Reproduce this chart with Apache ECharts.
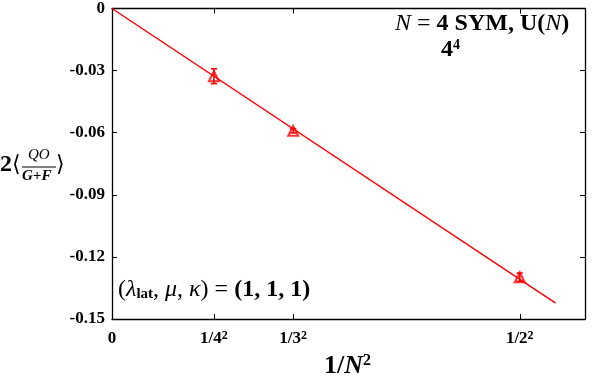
<!DOCTYPE html>
<html>
<head>
<meta charset="utf-8">
<script src="https://cdn.jsdelivr.net/npm/echarts@6/dist/echarts.min.js"></script>
<style>
  html, body { margin: 0; padding: 0; background: #fff; }
  #main { width: 593px; height: 381px; }
</style>
</head>
<body>
<div id="main"></div>
<script>
// 1/N^2 values for N = 4, 3, 2
var xVals = [1 / 16, 1 / 9, 1 / 4];
var yVals = [-0.0327, -0.0591, -0.1298];
var yErr = [0.0036, 0.0010, 0.0020];
// fit line through origin
var fitX = [0, 0.272];
var fitY = [0, -0.1423];
var xTicks = [0, 1 / 16, 1 / 9, 1 / 4];
var xTickLabels = ['0', '1/4{sup|2}', '1/3{sup|2}', '1/2{sup|2}'];

var serif = 'Liberation Serif';
var red = '#ff0000';

var myChart = echarts.init(document.getElementById('main'));

var points = xVals.map(function (x, i) { return [x, yVals[i], yErr[i]]; });
var fitLine = fitX.map(function (x, i) { return [x, fitY[i]]; });

function tickLabel(v) {
    for (var k = 0; k < xTicks.length; k++) {
        if (Math.abs(xTicks[k] - v) < 1e-9) return xTickLabels[k];
    }
    return '';
}

var axisLineStyle = { show: true, onZero: false, lineStyle: { color: '#000', width: 1.3 } };
var tickStyle = { show: true, inside: true, length: 5, lineStyle: { color: '#000' } };

var option = {
    animation: false,
    backgroundColor: '#fff',
    grid: { left: 112, top: 7, right: 8, bottom: 62, containLabel: false },
    xAxis: [{
        type: 'value', min: 0, max: 0.29,
        axisLine: axisLineStyle,
        axisTick: Object.assign({ customValues: xTicks }, tickStyle),
        axisLabel: {
            customValues: xTicks,
            formatter: tickLabel,
            margin: 11,
            fontFamily: serif, fontWeight: 'bold', fontSize: 17, color: '#000',
            rich: { sup: { fontFamily: serif, fontWeight: 'bold', fontSize: 12, verticalAlign: 'top', padding: [0, 0, 6, 0], color: '#000' } }
        },
        splitLine: { show: false }
    }, {
        type: 'value', min: 0, max: 0.29, position: 'top',
        axisLine: axisLineStyle,
        axisTick: Object.assign({ customValues: xTicks.slice(1) }, tickStyle),
        axisLabel: { show: false },
        splitLine: { show: false }
    }],
    yAxis: [{
        type: 'value', min: -0.15, max: 0, interval: 0.03,
        axisLine: axisLineStyle,
        axisTick: tickStyle,
        axisLabel: {
            margin: 7,
            formatter: function (v) { return v === 0 ? '0' : v.toFixed(2); },
            fontFamily: serif, fontWeight: 'bold', fontSize: 17, color: '#000'
        },
        splitLine: { show: false }
    }, {
        type: 'value', min: -0.15, max: 0, interval: 0.03, position: 'right',
        axisLine: axisLineStyle,
        axisTick: tickStyle,
        axisLabel: { show: false },
        splitLine: { show: false }
    }],
    series: [{
        type: 'line',
        data: fitLine,
        showSymbol: false,
        lineStyle: { color: red, width: 1.5 },
        z: 2
    }, {
        type: 'custom',
        data: points,
        renderItem: function (params, api) {
            var x = api.value(0), y = api.value(1), e = api.value(2);
            var top = api.coord([x, y + e]);
            var bot = api.coord([x, y - e]);
            var w = 3;
            var st = { stroke: red, lineWidth: 1.6 };
            return {
                type: 'group',
                children: [
                    { type: 'line', shape: { x1: top[0], y1: top[1], x2: bot[0], y2: bot[1] }, style: st },
                    { type: 'line', shape: { x1: top[0] - w, y1: top[1], x2: top[0] + w, y2: top[1] }, style: st },
                    { type: 'line', shape: { x1: bot[0] - w, y1: bot[1], x2: bot[0] + w, y2: bot[1] }, style: st }
                ]
            };
        },
        z: 3
    }, {
        type: 'scatter',
        data: points,
        symbol: 'triangle',
        symbolSize: 10,
        itemStyle: { color: 'rgba(255,255,255,0)', borderColor: red, borderWidth: 2 },
        z: 4
    }],
    graphic: [
        // y axis title: 2<QO/(G+F)>
        { type: 'text', left: 0, top: 153, style: { text: '2', font: 'bold 24px "Liberation Serif"', fill: '#000' } },
        { type: 'text', left: 12, top: 154, style: { text: '\u27e8', font: '22px "DejaVu Serif"', fill: '#000' } },
        { type: 'text', left: 28, top: 148, style: { text: 'QO', font: 'italic 15px "Liberation Serif"', fill: '#000' } },
        { type: 'line', shape: { x1: 22, y1: 167, x2: 56, y2: 167 }, style: { stroke: '#000', lineWidth: 1 } },
        { type: 'text', left: 22, top: 169, style: { text: 'G+F', font: 'bold italic 15px "Liberation Serif"', fill: '#000' } },
        { type: 'text', left: 56, top: 154, style: { text: '\u27e9', font: '22px "DejaVu Serif"', fill: '#000' } },
        // x axis title: 1/N^2
        {
            type: 'text', left: 324, top: 353,
            style: {
                text: '{b|1/}{i|N}{s|2}',
                rich: {
                    b: { font: 'bold 26px "Liberation Serif"', fill: '#000' },
                    i: { font: 'bold italic 26px "Liberation Serif"', fill: '#000' },
                    s: { font: 'bold 16px "Liberation Serif"', fill: '#000', verticalAlign: 'top', padding: [0, 0, 10, 0] }
                }
            }
        },
        // top right annotation
        {
            type: 'text', left: 395, top: 12,
            style: {
                text: '{i|N}{r| = }{b|4 SYM, U(}{i|N}{b|)}',
                rich: {
                    i: { font: 'italic 24px "Liberation Serif"', fill: '#000' },
                    r: { font: '24px "Liberation Serif"', fill: '#000' },
                    b: { font: 'bold 24px "Liberation Serif"', fill: '#000' }
                }
            }
        },
        {
            type: 'text', left: 441, top: 38,
            style: {
                text: '{b|4}{s|4}',
                rich: {
                    b: { font: 'bold 24px "Liberation Serif"', fill: '#000' },
                    s: { font: 'bold 14px "Liberation Serif"', fill: '#000', verticalAlign: 'top', padding: [0, 0, 9, 0] }
                }
            }
        },
        // bottom left annotation
        {
            type: 'text', left: 118, top: 278,
            style: {
                text: '{r|(}{i|\u03bb}{l|lat}{r|, }{i|\u03bc}{r|, }{i|\u03ba}{r|) = }{b|(1, 1, 1)}',
                rich: {
                    r: { font: '24px "Liberation Serif"', fill: '#000' },
                    i: { font: 'italic 24px "Liberation Serif"', fill: '#000' },
                    l: { font: 'bold 15px "Liberation Serif"', fill: '#000', verticalAlign: 'bottom', padding: [7, 0, 0, 0] },
                    b: { font: 'bold 24px "Liberation Serif"', fill: '#000' }
                }
            }
        }
    ]
};

myChart.setOption(option);
</script>
</body>
</html>
